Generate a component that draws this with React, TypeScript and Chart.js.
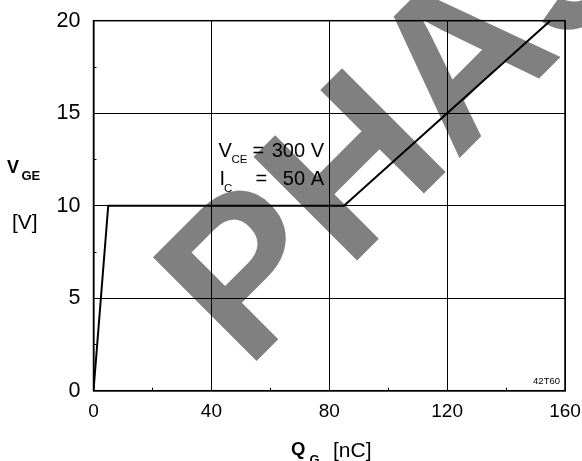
import React, { useEffect, useRef } from "react";
import { Chart, registerables } from "chart.js";

Chart.register(...registerables);

// ---- data ----
const qgNC = [0, 5, 85, 155];
const vgeV = [0, 10, 10, 20];
const xTickValues = [0, 40, 80, 120, 160];
const yTickValues = [0, 5, 10, 15, 20];
const xMinorTicks = [20, 60, 100, 140];
const yMinorTicks = [2.5, 7.5, 12.5, 17.5];
const watermarkText = "PHASE";
const condLine1 = { main: "V", sub: "CE", eq: "=", val: "300 V" };
const condLine2 = { main: "I", sub: "C", eq: "=", val: "50 A" };
const figCode = "42T60";

const FONT = '"Liberation Sans", Arial, Helvetica, sans-serif';

export default function App() {
  const ref = useRef<HTMLCanvasElement | null>(null);

  useEffect(() => {
    const canvas = ref.current;
    if (!canvas) return;

    const watermark = {
      id: "watermark",
      beforeDraw(chart: any) {
        const ctx = chart.ctx as CanvasRenderingContext2D;
        ctx.save();
        ctx.translate(246.5, 370.9);
        ctx.rotate(-Math.PI / 4);
        ctx.font = `bold 213px ${FONT}`;
        ctx.fillStyle = "#808080";
        ctx.textAlign = "left";
        ctx.textBaseline = "alphabetic";
        ctx.fillText(watermarkText, 0, 0);
        ctx.restore();
      },
    };

    const decorations = {
      id: "decorations",
      afterDraw(chart: any) {
        const ctx = chart.ctx as CanvasRenderingContext2D;
        const ca = chart.chartArea;
        const xs = chart.scales.x;
        const ys = chart.scales.y;
        ctx.save();
        // frame
        ctx.strokeStyle = "#000";
        ctx.lineWidth = 1.5;
        ctx.strokeRect(ca.left, ca.top, ca.right - ca.left, ca.bottom - ca.top);
        // minor ticks
        ctx.lineWidth = 1;
        ctx.beginPath();
        xMinorTicks.forEach((v) => {
          const px = Math.round(xs.getPixelForValue(v)) + 0.5;
          ctx.moveTo(px, ca.bottom);
          ctx.lineTo(px, ca.bottom - 3);
        });
        yMinorTicks.forEach((v) => {
          const py = Math.round(ys.getPixelForValue(v)) + 0.5;
          ctx.moveTo(ca.left, py);
          ctx.lineTo(ca.left + 3, py);
        });
        ctx.stroke();

        ctx.fillStyle = "#000";
        ctx.textAlign = "left";
        ctx.textBaseline = "alphabetic";
        // y title
        ctx.font = `bold 18px ${FONT}`;
        ctx.fillText("V", 7, 172.7);
        ctx.font = `bold 13px ${FONT}`;
        ctx.fillText("GE", 21.5, 180);
        ctx.font = `21px ${FONT}`;
        ctx.fillText("[V]", 12, 228.6);
        // x title
        ctx.font = `bold 18.5px ${FONT}`;
        ctx.fillText("Q", 291, 454.6);
        ctx.font = `bold 13px ${FONT}`;
        ctx.fillText("G", 309.5, 464);
        ctx.font = `21px ${FONT}`;
        ctx.fillText("[nC]", 333, 456.7);

        // condition annotation
        ctx.font = `20px ${FONT}`;
        ctx.fillText(condLine1.main, 218.5, 156.7);
        ctx.fillText(condLine2.main, 219.5, 185);
        ctx.font = `11.5px ${FONT}`;
        ctx.fillText(condLine1.sub, 231.5, 163.3);
        ctx.fillText(condLine2.sub, 224, 191.5);
        ctx.font = `20px ${FONT}`;
        ctx.fillText(condLine1.eq, 252.5, 156.7);
        ctx.fillText(condLine2.eq, 255.5, 185);
        ctx.textAlign = "right";
        ctx.fillText(condLine1.val, 324, 156.7);
        ctx.fillText(condLine2.val, 324, 185);

        // figure code
        ctx.font = `9.5px ${FONT}`;
        ctx.fillText(figCode, 560, 384);
        ctx.restore();
      },
    };

    const chart = new Chart(canvas, {
      type: "line",
      data: {
        datasets: [
          {
            data: qgNC.map((x, i) => ({ x, y: vgeV[i] })),
            borderColor: "#000",
            borderWidth: 2,
            pointRadius: 0,
            tension: 0,
            fill: false,
          },
        ],
      },
      options: {
        responsive: false,
        animation: false,
        events: [],
        layout: { padding: { left: 0, right: 17, top: 20.7, bottom: 0 } },
        plugins: { legend: { display: false }, tooltip: { enabled: false }, title: { display: false } },
        scales: {
          x: {
            type: "linear",
            min: 0,
            max: 160,
            afterFit(scale: any) {
              scale.height = 70.3;
              scale.paddingLeft = 0;
              scale.paddingRight = 0;
              scale.paddingTop = 0;
              scale.paddingBottom = 0;
            },
            afterBuildTicks(scale: any) {
              scale.ticks = xTickValues.map((v) => ({ value: v }));
            },
            ticks: {
              color: "#000",
              font: { family: FONT, size: 19 },
              padding: 10,
              maxRotation: 0,
              autoSkip: false,
            },
            grid: { color: "#000", lineWidth: 1, drawTicks: false },
            border: { display: true, color: "#000", width: 1.5 },
          },
          y: {
            type: "linear",
            min: 0,
            max: 20,
            afterFit(scale: any) {
              scale.width = 93.5;
              scale.paddingLeft = 0;
              scale.paddingRight = 0;
              scale.paddingTop = 0;
              scale.paddingBottom = 0;
            },
            afterBuildTicks(scale: any) {
              scale.ticks = yTickValues.map((v) => ({ value: v }));
            },
            ticks: {
              color: "#000",
              font: { family: FONT, size: 21.5 },
              padding: 13,
              autoSkip: false,
            },
            grid: { color: "#000", lineWidth: 1, drawTicks: false },
            border: { display: true, color: "#000", width: 1.5 },
          },
        },
      },
      plugins: [watermark, decorations],
    } as any);

    return () => chart.destroy();
  }, []);

  return (
    <div style={{ position: "absolute", left: 0, top: 0, width: 582, height: 461, background: "#fff" }}>
      <canvas ref={ref} width={582} height={461} style={{ display: "block" }} />
    </div>
  );
}
